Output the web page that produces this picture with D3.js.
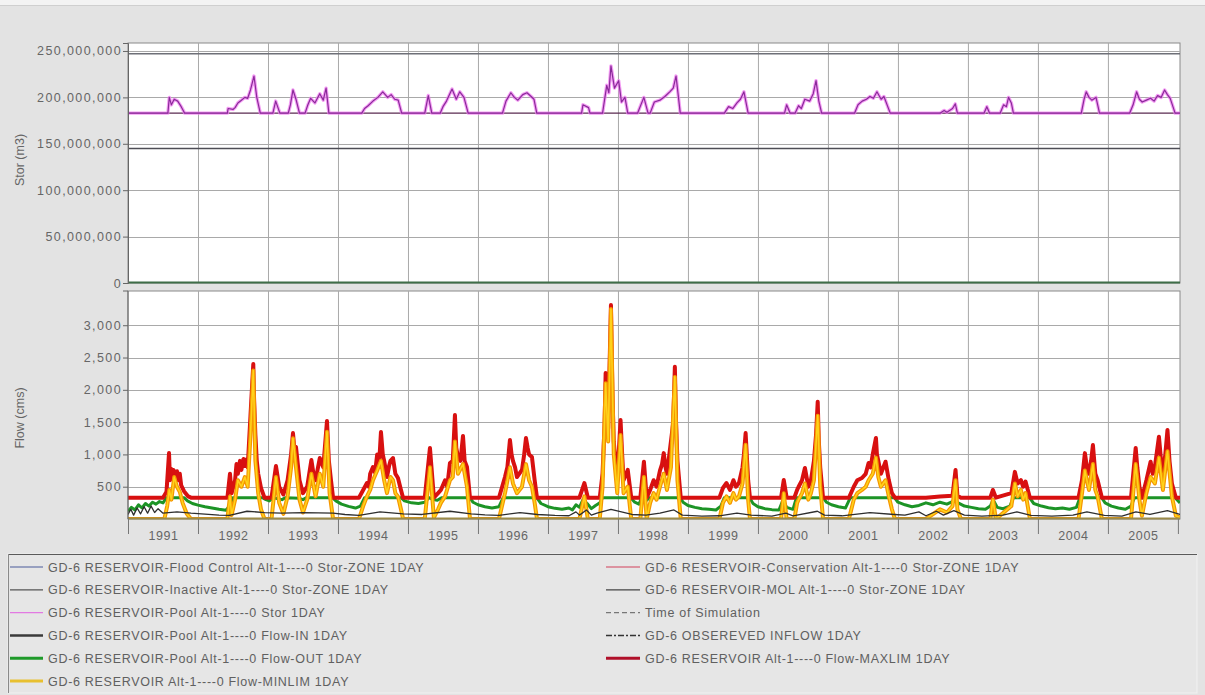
<!DOCTYPE html>
<html>
<head>
<meta charset="utf-8">
<script src="https://cdn.jsdelivr.net/npm/d3@7"></script>
<style>
  html, body { margin: 0; padding: 0; background: #e3e3e3; }
  svg { display: block; font-family: "Liberation Sans", Arial, sans-serif; }
  .tick text { fill: #666; }
</style>
</head>
<body>
<svg id="chart" width="1205" height="695"></svg>
<script>
// ---- Data (time in decimal years) ----
const years = [1991, 1992, 1993, 1994, 1995, 1996, 1997, 1998, 1999, 2000, 2001, 2002, 2003, 2004, 2005];
const storTicks = [0, 50e6, 100e6, 150e6, 200e6, 250e6];
const flowTicks = [500, 1000, 1500, 2000, 2500, 3000];

// storage zones (m3)
const floodControlStor = 247e6;
const conservationStor = 183e6;
const inactiveStor = 145e6;

const poolStor = [
  [1991.00,183e6],[1991.57,183e6],[1991.59,200e6],[1991.62,192e6],[1991.66,198e6],[1991.71,196e6],[1991.76,190e6],[1991.81,183e6],
  [1992.42,183e6],[1992.43,188e6],[1992.50,187e6],[1992.53,189e6],[1992.57,194e6],[1992.62,197e6],[1992.67,200e6],[1992.71,199e6],[1992.75,208e6],[1992.80,223e6],[1992.84,200e6],[1992.89,183e6],
  [1993.07,183e6],[1993.11,196e6],[1993.17,183e6],[1993.29,183e6],[1993.32,192e6],[1993.357,208e6],[1993.40,198e6],[1993.45,183e6],[1993.53,183e6],[1993.57,192e6],[1993.61,199e6],[1993.67,194e6],[1993.74,204e6],[1993.79,197e6],[1993.83,210e6],[1993.87,183e6],
  [1994.34,183e6],[1994.38,188e6],[1994.43,191e6],[1994.50,196e6],[1994.57,200e6],[1994.64,206e6],[1994.71,200e6],[1994.76,203e6],[1994.81,198e6],[1994.86,197e6],[1994.91,183e6],
  [1995.24,183e6],[1995.29,202e6],[1995.34,183e6],[1995.46,183e6],[1995.50,190e6],[1995.55,196e6],[1995.63,209e6],[1995.69,198e6],[1995.74,206e6],[1995.80,200e6],[1995.86,183e6],
  [1996.35,183e6],[1996.40,196e6],[1996.47,205e6],[1996.52,200e6],[1996.57,197e6],[1996.64,203e6],[1996.70,205e6],[1996.76,201e6],[1996.80,198e6],[1996.84,183e6],
  [1997.48,183e6],[1997.50,192e6],[1997.58,189e6],[1997.60,183e6],[1997.78,183e6],[1997.84,213e6],[1997.87,205e6],[1997.90,234e6],[1997.95,210e6],[1998.01,218e6],[1998.05,195e6],[1998.10,200e6],[1998.14,183e6],
  [1998.28,183e6],[1998.37,200e6],[1998.43,183e6],[1998.46,183e6],[1998.52,195e6],[1998.60,197e6],[1998.67,201e6],[1998.74,206e6],[1998.79,210e6],[1998.83,223e6],[1998.89,183e6],
  [1999.52,183e6],[1999.58,190e6],[1999.64,188e6],[1999.70,194e6],[1999.75,198e6],[1999.80,206e6],[1999.86,183e6],
  [2000.38,183e6],[2000.41,192e6],[2000.46,183e6],[2000.53,183e6],[2000.58,191e6],[2000.62,188e6],[2000.67,198e6],[2000.74,196e6],[2000.79,204e6],[2000.83,218e6],[2000.87,196e6],[2000.91,183e6],
  [2001.38,183e6],[2001.43,192e6],[2001.49,196e6],[2001.55,198e6],[2001.60,201e6],[2001.65,199e6],[2001.70,206e6],[2001.76,198e6],[2001.80,201e6],[2001.89,183e6],
  [2002.60,183e6],[2002.66,186e6],[2002.70,184e6],[2002.78,188e6],[2002.82,193e6],[2002.85,183e6],
  [2003.23,183e6],[2003.27,190e6],[2003.31,183e6],[2003.46,183e6],[2003.51,192e6],[2003.55,190e6],[2003.58,200e6],[2003.62,194e6],[2003.65,183e6],
  [2004.62,183e6],[2004.66,198e6],[2004.69,206e6],[2004.73,200e6],[2004.77,197e6],[2004.83,200e6],[2004.88,183e6],
  [2005.31,183e6],[2005.36,192e6],[2005.41,206e6],[2005.45,198e6],[2005.49,195e6],[2005.55,197e6],[2005.61,199e6],[2005.66,196e6],[2005.71,202e6],[2005.76,200e6],[2005.81,208e6],[2005.85,203e6],[2005.89,199e6],[2005.96,183e6],[2006.03,183e6]
];

// flows (cms)
const flowMaxLim = [
  [1991.00,330],[1991.50,330],[1991.55,420],[1991.586,1020],[1991.60,600],[1991.615,780],[1991.63,620],[1991.65,760],[1991.68,660],[1991.70,740],[1991.72,600],[1991.74,700],[1991.76,520],[1991.80,430],[1991.86,350],[1991.90,330],
  [1992.42,330],[1992.457,700],[1992.48,400],[1992.53,600],[1992.55,850],[1992.57,700],[1992.60,900],[1992.62,760],[1992.65,930],[1992.67,820],[1992.69,920],[1992.71,800],[1992.75,1600],[1992.79,2400],[1992.80,1900],[1992.82,1300],[1992.84,900],[1992.86,700],[1992.90,480],[1992.95,330],
  [1993.05,330],[1993.114,820],[1993.16,500],[1993.22,380],[1993.28,600],[1993.33,1000],[1993.357,1330],[1993.38,1050],[1993.40,1115],[1993.45,600],[1993.50,400],[1993.56,500],[1993.62,913],[1993.65,700],[1993.68,600],[1993.74,944],[1993.79,800],[1993.843,1517],[1993.87,900],[1993.90,600],[1993.93,330],
  [1994.30,330],[1994.36,450],[1994.414,557],[1994.44,500],[1994.46,700],[1994.50,805],[1994.53,720],[1994.56,1000],[1994.59,900],[1994.614,1347],[1994.64,1000],[1994.66,900],[1994.70,650],[1994.73,820],[1994.75,900],[1994.786,944],[1994.82,700],[1994.857,635],[1994.90,450],[1994.93,330],
  [1995.24,330],[1995.314,1099],[1995.37,330],[1995.43,400],[1995.47,450],[1995.53,600],[1995.56,500],[1995.60,867],[1995.64,900],[1995.671,1610],[1995.69,1100],[1995.714,960],[1995.75,900],[1995.786,1285],[1995.81,900],[1995.843,805],[1995.886,330],
  [1996.30,330],[1996.386,650],[1996.42,800],[1996.457,1223],[1996.48,1000],[1996.50,900],[1996.53,800],[1996.557,650],[1996.629,760],[1996.66,1000],[1996.686,1254],[1996.71,1100],[1996.73,1000],[1996.771,960],[1996.81,600],[1996.843,330],
  [1997.45,330],[1997.52,557],[1997.57,330],[1997.74,330],[1997.78,700],[1997.81,1500],[1997.824,2260],[1997.84,1700],[1997.86,1400],[1997.90,3313],[1997.92,2000],[1997.94,1200],[1997.99,600],[1998.037,1532],[1998.06,1000],[1998.08,600],[1998.14,760],[1998.19,330],
  [1998.32,330],[1998.371,887],[1998.41,330],[1998.46,450],[1998.51,600],[1998.551,500],[1998.60,750],[1998.63,850],[1998.654,1020],[1998.68,800],[1998.70,700],[1998.757,1200],[1998.79,1500],[1998.813,2357],[1998.83,1500],[1998.85,900],[1998.897,330],
  [1999.45,330],[1999.50,480],[1999.551,557],[1999.60,450],[1999.65,600],[1999.686,500],[1999.729,557],[1999.78,800],[1999.80,1000],[1999.824,1330],[1999.86,600],[1999.886,330],
  [2000.33,330],[2000.369,604],[2000.41,330],[2000.52,330],[2000.56,450],[2000.581,500],[2000.63,600],[2000.671,790],[2000.72,500],[2000.757,600],[2000.80,900],[2000.83,1300],[2000.854,1816],[2000.87,1200],[2000.89,800],[2000.93,330],
  [2001.30,330],[2001.369,500],[2001.42,600],[2001.486,635],[2001.54,700],[2001.581,867],[2001.61,800],[2001.64,1000],[2001.686,1254],[2001.70,1000],[2001.72,900],[2001.757,700],[2001.823,887],[2001.87,600],[2001.914,400],[2001.957,330],
  [2002.40,330],[2002.60,350],[2002.78,360],[2002.823,760],[2002.85,360],[2002.90,330],
  [2003.32,330],[2003.357,450],[2003.40,330],[2003.62,400],[2003.671,730],[2003.71,550],[2003.757,600],[2003.79,500],[2003.823,580],[2003.886,330],
  [2004.58,330],[2004.63,600],[2004.671,1020],[2004.70,800],[2004.729,700],[2004.76,900],[2004.786,1145],[2004.82,700],[2004.853,600],[2004.914,330],
  [2005.33,330],[2005.397,1099],[2005.42,800],[2005.45,500],[2005.486,330],[2005.55,600],[2005.61,887],[2005.64,700],[2005.671,810],[2005.729,1274],[2005.76,900],[2005.786,700],[2005.82,1000],[2005.851,1378],[2005.88,900],[2005.914,550],[2005.971,330],[2006.03,330]
];

const flowMinLim = [
  [1991.00,0],[1991.52,0],[1991.56,200],[1991.59,450],[1991.62,300],[1991.66,650],[1991.70,500],[1991.74,420],[1991.78,250],[1991.84,80],[1991.90,0],
  [1992.42,0],[1992.457,350],[1992.48,60],[1992.53,300],[1992.57,600],[1992.62,500],[1992.67,650],[1992.71,500],[1992.75,1300],[1992.79,2300],[1992.82,900],[1992.86,400],[1992.90,150],[1992.95,0],
  [1993.05,0],[1993.114,650],[1993.16,250],[1993.22,80],[1993.28,350],[1993.33,800],[1993.357,1250],[1993.40,800],[1993.45,300],[1993.50,100],[1993.56,300],[1993.62,700],[1993.68,350],[1993.74,700],[1993.79,500],[1993.843,1350],[1993.88,400],[1993.93,0],
  [1994.30,0],[1994.36,200],[1994.414,350],[1994.46,450],[1994.50,600],[1994.56,750],[1994.614,900],[1994.66,600],[1994.70,400],[1994.75,650],[1994.786,600],[1994.82,400],[1994.857,350],[1994.90,150],[1994.93,0],
  [1995.24,0],[1995.314,800],[1995.37,20],[1995.43,150],[1995.47,250],[1995.53,350],[1995.60,600],[1995.64,650],[1995.671,1200],[1995.714,700],[1995.786,850],[1995.843,500],[1995.886,0],
  [1996.30,0],[1996.386,400],[1996.457,800],[1996.50,550],[1996.557,400],[1996.629,500],[1996.686,850],[1996.73,600],[1996.771,500],[1996.81,250],[1996.843,0],
  [1997.45,0],[1997.52,350],[1997.57,0],[1997.74,0],[1997.78,500],[1997.824,2100],[1997.86,1200],[1997.90,3250],[1997.94,1000],[1997.99,400],[1998.037,1300],[1998.08,400],[1998.14,500],[1998.19,0],
  [1998.32,0],[1998.371,650],[1998.41,0],[1998.46,250],[1998.51,400],[1998.551,300],[1998.60,500],[1998.654,700],[1998.70,450],[1998.757,800],[1998.813,2200],[1998.85,600],[1998.897,0],
  [1999.45,0],[1999.50,250],[1999.551,350],[1999.60,250],[1999.65,400],[1999.686,300],[1999.729,350],[1999.78,550],[1999.824,1150],[1999.86,300],[1999.886,0],
  [2000.33,0],[2000.369,400],[2000.41,0],[2000.52,0],[2000.56,250],[2000.581,300],[2000.63,400],[2000.671,550],[2000.72,300],[2000.757,400],[2000.80,600],[2000.854,1600],[2000.89,500],[2000.93,0],
  [2001.30,0],[2001.369,300],[2001.42,400],[2001.486,450],[2001.54,500],[2001.581,600],[2001.64,700],[2001.686,950],[2001.72,650],[2001.757,500],[2001.823,600],[2001.87,350],[2001.914,150],[2001.957,0],
  [2002.40,0],[2002.60,150],[2002.70,100],[2002.78,200],[2002.823,600],[2002.85,150],[2002.90,0],
  [2003.32,0],[2003.357,300],[2003.40,0],[2003.62,200],[2003.671,550],[2003.71,350],[2003.757,450],[2003.79,300],[2003.823,400],[2003.886,0],
  [2004.58,0],[2004.63,400],[2004.671,750],[2004.729,450],[2004.786,850],[2004.82,450],[2004.853,350],[2004.914,0],
  [2005.33,0],[2005.397,850],[2005.45,300],[2005.486,50],[2005.55,400],[2005.61,650],[2005.671,550],[2005.729,950],[2005.786,450],[2005.851,1050],[2005.914,350],[2005.971,50],[2006.03,20]
];

const flowOut = [
  [1991.00,120],[1991.05,180],[1991.10,140],[1991.15,220],[1991.20,170],[1991.25,240],[1991.30,200],[1991.35,260],[1991.40,230],[1991.45,270],[1991.50,250],[1991.55,330],[1991.80,330],[1991.85,280],[1991.92,240],
  [1992.00,215],[1992.10,190],[1992.20,170],[1992.30,150],[1992.40,135],[1992.45,200],[1992.50,330],[1992.92,330],[1992.97,300],
  [1993.02,280],[1993.08,330],[1993.20,300],[1993.25,330],[1993.45,320],[1993.50,300],[1993.55,330],[1993.92,330],[1993.97,280],
  [1994.05,230],[1994.15,195],[1994.25,170],[1994.32,200],[1994.38,330],[1994.90,330],[1994.95,280],
  [1995.05,250],[1995.15,240],[1995.24,260],[1995.30,330],[1995.36,300],[1995.42,290],[1995.48,330],[1995.88,330],[1995.93,260],
  [1996.00,220],[1996.10,190],[1996.20,170],[1996.30,190],[1996.36,330],[1996.84,330],[1996.90,240],
  [1997.00,190],[1997.10,165],[1997.20,150],[1997.30,170],[1997.35,140],[1997.40,220],[1997.45,180],[1997.50,300],[1997.56,240],[1997.62,160],[1997.68,210],[1997.74,250],[1997.78,330],
  [1998.18,330],[1998.24,260],[1998.30,230],[1998.34,330],[1998.40,280],[1998.45,330],[1998.89,330],[1998.93,260],
  [1999.00,210],[1999.10,180],[1999.20,160],[1999.30,150],[1999.40,140],[1999.47,200],[1999.52,330],[1999.88,330],[1999.93,240],
  [2000.00,190],[2000.10,160],[2000.20,145],[2000.30,140],[2000.36,300],[2000.41,180],[2000.50,150],[2000.55,330],[2000.93,330],[2000.98,260],
  [2001.05,220],[2001.15,190],[2001.25,170],[2001.32,330],[2001.95,330],
  [2002.00,260],[2002.10,220],[2002.20,190],[2002.30,210],[2002.40,250],[2002.50,220],[2002.60,260],[2002.70,230],[2002.80,280],[2002.86,250],[2002.95,200],
  [2003.05,180],[2003.15,160],[2003.25,150],[2003.32,200],[2003.36,300],[2003.42,180],[2003.50,160],[2003.60,200],[2003.65,330],[2003.88,330],[2003.94,240],
  [2004.05,200],[2004.15,175],[2004.25,160],[2004.35,170],[2004.45,150],[2004.55,180],[2004.60,330],[2004.91,330],[2004.96,250],
  [2005.05,200],[2005.15,170],[2005.25,150],[2005.33,200],[2005.38,330],[2005.96,330],[2006.03,250]
];

const flowIn = [
  [1991.00,70],[1991.04,150],[1991.08,60],[1991.13,170],[1991.18,80],[1991.23,190],[1991.28,90],[1991.33,200],[1991.38,100],[1991.43,160],[1991.50,90],[1991.70,110],[1991.90,90],
  [1992.10,75],[1992.30,60],[1992.45,55],[1992.70,120],[1992.95,100],
  [1993.20,90],[1993.50,100],[1993.93,90],
  [1994.10,70],[1994.30,55],[1994.60,110],[1994.93,80],
  [1995.20,70],[1995.60,120],[1995.90,80],
  [1996.10,65],[1996.30,55],[1996.60,100],[1996.85,70],
  [1997.10,55],[1997.30,50],[1997.40,110],[1997.45,60],[1997.55,140],[1997.62,60],[1997.70,90],[1997.90,150],
  [1998.20,70],[1998.40,60],[1998.60,90],[1998.80,140],[1998.92,60],
  [1999.20,45],[1999.45,50],[1999.70,90],[1999.90,60],
  [2000.20,45],[2000.40,90],[2000.50,50],[2000.85,120],[2000.95,60],
  [2001.20,50],[2001.60,100],[2001.95,70],
  [2002.10,60],[2002.30,110],[2002.40,50],[2002.55,120],[2002.65,60],[2002.80,130],[2002.95,60],
  [2003.20,45],[2003.50,60],[2003.70,110],[2003.90,55],
  [2004.20,45],[2004.50,60],[2004.70,110],[2004.95,55],
  [2005.20,45],[2005.40,110],[2005.60,70],[2005.85,130],[2006.03,70]
];

const legendLeft = [
  {name: "GD-6 RESERVOIR-Flood Control Alt-1----0 Stor-ZONE 1DAY", color: "#4a5a9a", width: 1.2},
  {name: "GD-6 RESERVOIR-Inactive Alt-1----0 Stor-ZONE 1DAY", color: "#555", width: 1.2},
  {name: "GD-6 RESERVOIR-Pool Alt-1----0 Stor 1DAY", color: "#e27ae2", width: 1.2},
  {name: "GD-6 RESERVOIR-Pool Alt-1----0 Flow-IN 1DAY", color: "#3a3a3a", width: 2.5},
  {name: "GD-6 RESERVOIR-Pool Alt-1----0 Flow-OUT 1DAY", color: "#1f9a2a", width: 3},
  {name: "GD-6 RESERVOIR Alt-1----0 Flow-MINLIM 1DAY", color: "#e8c030", width: 3}
];
const legendRight = [
  {name: "GD-6 RESERVOIR-Conservation Alt-1----0 Stor-ZONE 1DAY", color: "#d2405a", width: 1.2},
  {name: "GD-6 RESERVOIR-MOL Alt-1----0 Stor-ZONE 1DAY", color: "#444", width: 1.2},
  {name: "Time of Simulation", color: "#777", width: 1.2, dash: "5,3"},
  {name: "GD-6 OBSEREVED INFLOW 1DAY", color: "#333", width: 1.5, dash: "6,2,2,2"},
  {name: "GD-6 RESERVOIR Alt-1----0 Flow-MAXLIM 1DAY", color: "#b0102a", width: 3}
];

// ---- Layout ----
const svg = d3.select("#chart");
const W = 1205, H = 695;
const plotL = 128, plotR = 1180;
const top1 = 43, bot1 = 283;
const top2 = 291, bot2 = 519;

svg.append("rect").attr("width", W).attr("height", H).attr("fill", "#e3e3e3");
svg.append("rect").attr("width", W).attr("height", 5).attr("fill", "#f3f3f3");
svg.append("line").attr("x1", 0).attr("x2", W).attr("y1", 5.5).attr("y2", 5.5).attr("stroke", "#cfcfcf");

const x = d3.scaleLinear().domain([1991, 2006.03]).range([plotL, plotR]);
const yS = d3.scaleLinear().domain([0, 258.6e6]).range([bot1, top1]);
const yF = d3.scaleLinear().domain([0, 3530]).range([bot2, top2]);

// plot backgrounds
[[top1, bot1], [top2, bot2]].forEach(([t, b]) => {
  svg.append("rect").attr("x", plotL).attr("y", t).attr("width", plotR - plotL).attr("height", b - t)
    .attr("fill", "#ffffff").attr("stroke", "#8a8a8a").attr("stroke-width", 1);
});

const defs = svg.append("defs");
defs.append("clipPath").attr("id", "clip1").append("rect")
  .attr("x", plotL).attr("y", top1).attr("width", plotR - plotL).attr("height", bot1 - top1);
defs.append("clipPath").attr("id", "clip2").append("rect")
  .attr("x", plotL).attr("y", top2).attr("width", plotR - plotL).attr("height", bot2 - top2);

const gridColor = "#a9a9a9";

// gridlines: vertical at year boundaries, horizontal at ticks
function grid(y, ticks, t, b) {
  const g = svg.append("g");
  g.selectAll(".v").data(years.slice(1)).join("line")
    .attr("x1", d => x(d) + 0.5).attr("x2", d => x(d) + 0.5)
    .attr("y1", t).attr("y2", b).attr("stroke", gridColor);
  g.selectAll(".h").data(ticks).join("line")
    .attr("x1", plotL).attr("x2", plotR)
    .attr("y1", d => Math.round(y(d)) + 0.5).attr("y2", d => Math.round(y(d)) + 0.5)
    .attr("stroke", gridColor);
}
grid(yS, storTicks.slice(1), top1, bot1);
grid(yF, flowTicks, top2, bot2);

// ---- Storage panel ----
const s1 = svg.append("g").attr("clip-path", "url(#clip1)");
const zone = (v, color, w) => s1.append("line")
  .attr("x1", plotL).attr("x2", plotR).attr("y1", yS(v)).attr("y2", yS(v))
  .attr("stroke", color).attr("stroke-width", w);
zone(floodControlStor, "#6e7078", 1.6);
zone(inactiveStor, "#4e4e56", 1.6);
zone(conservationStor, "#5a2a50", 1.4);

const lineS = d3.line().x(d => x(d[0])).y(d => yS(d[1]));
s1.append("path").datum(poolStor).attr("d", lineS)
  .attr("fill", "none").attr("stroke", "#f07cf0").attr("stroke-width", 3.4).attr("stroke-opacity", 0.75)
  .attr("stroke-linejoin", "round");
s1.append("path").datum(poolStor).attr("d", lineS)
  .attr("fill", "none").attr("stroke", "#8a2a9a").attr("stroke-width", 1.2).attr("stroke-linejoin", "round");

// zero storage line
svg.append("line").attr("x1", plotL).attr("x2", plotR).attr("y1", yS(0) - 0.5).attr("y2", yS(0) - 0.5)
  .attr("stroke", "#3f6e48").attr("stroke-width", 2);

// ---- Flow panel ----
const s2 = svg.append("g").attr("clip-path", "url(#clip2)");
const lineF = d3.line().x(d => x(d[0])).y(d => yF(d[1]));
s2.append("path").datum(flowOut).attr("d", lineF)
  .attr("fill", "none").attr("stroke", "#1c9426").attr("stroke-width", 3).attr("stroke-linejoin", "round");
s2.append("path").datum(flowMaxLim).attr("d", lineF)
  .attr("fill", "none").attr("stroke", "#d81010").attr("stroke-width", 4).attr("stroke-linejoin", "round");
s2.append("path").datum(flowMinLim).attr("d", lineF)
  .attr("fill", "none").attr("stroke", "#f59600").attr("stroke-width", 4).attr("stroke-linejoin", "round");
s2.append("path").datum(flowMinLim).attr("d", lineF)
  .attr("fill", "none").attr("stroke", "#ffd21a").attr("stroke-width", 1.6).attr("stroke-linejoin", "round");
s2.append("path").datum(flowIn).attr("d", lineF)
  .attr("fill", "none").attr("stroke", "#2e2e2e").attr("stroke-width", 1.3).attr("stroke-linejoin", "round");

// flow zero line
svg.append("line").attr("x1", plotL).attr("x2", plotR).attr("y1", yF(0) - 0.5).attr("y2", yF(0) - 0.5)
  .attr("stroke", "#9a8a4a").attr("stroke-width", 2);

// ---- Axes ----
const axS = svg.append("g").attr("transform", `translate(${plotL},0)`)
  .call(d3.axisLeft(yS).tickValues(storTicks).tickSize(5).tickPadding(1).tickFormat(d3.format(",")));
const axF = svg.append("g").attr("transform", `translate(${plotL},0)`)
  .call(d3.axisLeft(yF).tickValues(flowTicks).tickSize(5).tickPadding(1).tickFormat(d3.format(",")));
[axS, axF].forEach(a => {
  a.select(".domain").attr("stroke", "#666");
  a.selectAll(".tick line").attr("stroke", "#666");
  a.selectAll(".tick text").attr("font-size", 12.5).attr("letter-spacing", "1.4px")
    .attr("font-family", "Liberation Sans, Arial, sans-serif");
});
axF.select(".domain").attr("d", `M-5,${top2}H0V${bot2}`);

// year boundary ticks
const axYr = svg.append("g").attr("transform", `translate(0,${bot2})`)
  .call(d3.axisBottom(x).tickValues(years.concat([2006])).tickSize(15).tickFormat(""));
axYr.select(".domain").remove();
axYr.selectAll(".tick line").attr("stroke", "#777");
// year labels centred in each year
const axLab = svg.append("g").attr("transform", `translate(0,${bot2})`)
  .call(d3.axisBottom(x).tickValues(years.map(d => d + 0.5)).tickSize(0).tickPadding(12)
    .tickFormat(d => String(Math.floor(d))));
axLab.select(".domain").remove();
axLab.selectAll(".tick text").attr("font-size", 12.5).attr("letter-spacing", "0.6px")
  .attr("font-family", "Liberation Sans, Arial, sans-serif");

// axis titles
svg.append("text").attr("transform", "translate(24,160) rotate(-90)")
  .attr("text-anchor", "middle").attr("fill", "#666").attr("font-size", 12.5)
  .text("Stor (m3)");
svg.append("text").attr("transform", "translate(24,418) rotate(-90)")
  .attr("text-anchor", "middle").attr("fill", "#666").attr("font-size", 12.5)
  .text("Flow (cms)");

// ---- Legend ----
const lg = svg.append("g");
lg.append("rect").attr("x", 8).attr("y", 554).attr("width", 1189).attr("height", 139)
  .attr("fill", "#e6e6e6").attr("stroke", "#f2f2f2");
lg.append("line").attr("x1", 8).attr("x2", 1197).attr("y1", 554.5).attr("y2", 554.5)
  .attr("stroke", "#5a5a5a").attr("stroke-width", 1.2);
lg.append("line").attr("x1", 8.5).attr("x2", 8.5).attr("y1", 554).attr("y2", 693)
  .attr("stroke", "#8a8a8a");

function legendCol(items, x0, x1, tx) {
  const rows = lg.selectAll(null).data(items).join("g")
    .attr("transform", (d, i) => `translate(0,${567 + i * 22.8})`);
  rows.append("line").attr("x1", x0).attr("x2", x1).attr("y1", 0).attr("y2", 0)
    .attr("stroke", d => d.color).attr("stroke-width", d => d.width)
    .attr("stroke-dasharray", d => d.dash || null);
  rows.append("text").attr("x", tx).attr("y", 4.5).attr("fill", "#606060")
    .attr("font-size", 12.5).attr("letter-spacing", "0.7px").text(d => d.name);
}
legendCol(legendLeft, 10, 43, 48);
legendCol(legendRight, 606, 640, 645);
</script>
</body>
</html>
